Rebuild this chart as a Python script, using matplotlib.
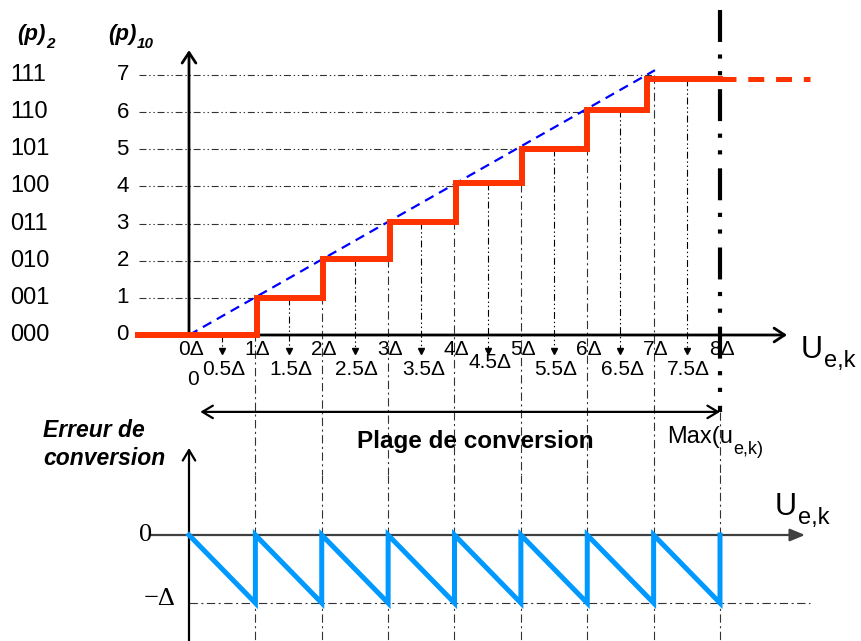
import matplotlib
matplotlib.use("Agg")
import matplotlib.pyplot as plt

plt.rcParams['font.family'] = ['Liberation Sans', 'DejaVu Sans']
plt.rcParams['lines.scale_dashes'] = False

# ---------------- data ----------------
codes_dec = [0, 1, 2, 3, 4, 5, 6, 7]
codes_bin = ['000', '001', '010', '011', '100', '101', '110', '111']
step_edges = [-0.77, 1.03, 2.02, 3.03, 4.02, 5.01, 6.0, 6.9, 8.0]   # in units of Delta
step_levels = [0, 1, 2.05, 3.05, 4.1, 5.0, 6.05, 6.9]
ideal_x = [0, 7.02]
ideal_y = [0, 7.13]
sat_x = [8.0, 9.36]
sat_y = [6.9, 6.9]
int_ticks = [0, 1, 2, 3, 4, 5, 6, 7, 8]
int_labels = ['0Δ', '1Δ', '2Δ', '3Δ', '4Δ', '5Δ', '6Δ', '7Δ', '8Δ']
half_ticks = [0.5, 1.5, 2.5, 3.5, 4.5, 5.5, 6.5, 7.5]
half_labels = ['0.5Δ', '1.5Δ', '2.5Δ', '3.5Δ', '4.5Δ', '5.5Δ', '6.5Δ', '7.5Δ']
err_x = [0, 1, 1, 2, 2, 3, 3, 4, 4, 5, 5, 6, 6, 7, 7, 8, 8]
err_y = [0, -1, 0, -1, 0, -1, 0, -1, 0, -1, 0, -1, 0, -1, 0, -1, 0]
x_max_range = 8

RED = '#ff3300'
BLUE = '#0099ff'
GRID = '#333333'
DD = (0, (5, 2, 1, 2, 1, 2))      # thin dash-dot-dot
DDd = (0, (6, 2.5, 1.5, 2.5))

W, H = 861, 641
fig = plt.figure(figsize=(W / 100, H / 100), dpi=100)
split = 475
ax1 = fig.add_axes([0, 1 - split / H, 1, split / H])
ax2 = fig.add_axes([0, 0, 1, (H - split) / H])
dpx = 66.375
lpx = 37.143
xlim = (-189 / dpx, (W - 189) / dpx)
ax1.set_xlim(*xlim)
ax1.set_ylim(-(split - 335) / lpx, 335 / lpx)
ax2.set_xlim(*xlim)
ax2.set_ylim(-(H - 535) / 68, (535 - split) / 68)
for a in (ax1, ax2):
    a.axis('off')

y1_bot = ax1.get_ylim()[0]


def sub(ax, parent, s, size, dy=-1.0, dx=0.5, **kw):
    ax.annotate(s, xy=(1, 0), xycoords=parent, xytext=(dx, dy),
                textcoords='offset points', fontsize=size, ha='left',
                va='baseline', annotation_clip=False, **kw)


# ---------- top chart -------------
for k in codes_dec[1:]:
    ax1.plot([-0.75, k], [k, k], color=GRID, lw=0.8, linestyle=DD, zorder=1)
for k in int_ticks[1:-1]:
    ax1.plot([k, k], [k, y1_bot], color=GRID, lw=0.8, linestyle=DDd, zorder=1)
for j, h in enumerate(half_ticks):
    lvl = step_levels[j]
    ax1.plot([h, h], [lvl, -0.40], color='k', lw=0.8, linestyle=DD, zorder=1)
    ax1.plot([h], [-0.42], marker='v', color='k', markersize=5, zorder=2)

# thick dash-dot at max
ax1.plot([x_max_range, x_max_range], [8.75, -2.07], color='k', lw=3,
         linestyle=(0, (23, 9, 3, 9, 3, 10)), zorder=3)
ax1.plot([x_max_range, x_max_range], [-2.07, y1_bot], color=GRID, lw=0.8,
         linestyle=DDd, zorder=1)

# axes arrows
head = '->,head_length=0.5,head_width=0.33'
ax1.annotate('', xy=(9.01, 0), xytext=(0, 0),
             arrowprops=dict(arrowstyle=head, lw=2, color='k', shrinkA=0,
                             shrinkB=0, mutation_scale=15),
             annotation_clip=False, zorder=2)
ax1.annotate('', xy=(0, 7.67), xytext=(0, 0),
             arrowprops=dict(arrowstyle=head, lw=2, color='k', shrinkA=0,
                             shrinkB=0, mutation_scale=15),
             annotation_clip=False, zorder=2)

# ideal line
ax1.plot(ideal_x, ideal_y, color='#0000ff', lw=1.6, linestyle=(0, (7, 4.5)), zorder=4)
# staircase
ax1.plot(step_edges, step_levels + [step_levels[-1]], drawstyle='steps-post',
         color=RED, lw=4.3, solid_joinstyle='miter', zorder=5)
ax1.plot(sat_x, sat_y, color=RED, lw=3.6, linestyle=(0, (11.5, 8.5)), zorder=5)

# y labels
for k, b in zip(codes_dec, codes_bin):
    ax1.text(-1.0, k, str(k), fontsize=16, ha='center', va='center')
    ax1.text(-2.70, k, b, fontsize=17, ha='left', va='center')
# headers
hdr = dict(fontweight='bold', style='italic')
t = ax1.text(-2.59, 7.94, '(p)', fontsize=16, ha='left', va='baseline', **hdr)
sub(ax1, t, '2', 11, dy=-2.0, dx=0.3, **hdr)
t = ax1.text(-1.22, 7.94, '(p)', fontsize=16, ha='left', va='baseline', **hdr)
sub(ax1, t, '10', 11, dy=-2.0, dx=0.3, **hdr)

# x labels
for tk, lab in zip(int_ticks, int_labels):
    ax1.text(tk + 0.03, -0.38, lab, fontsize=15, ha='center', va='center')
for tk, lab in zip(half_ticks, half_labels):
    yy = -0.75 if lab == '4.5Δ' else -0.93
    ax1.text(tk + 0.03, yy, lab, fontsize=15, ha='center', va='center')
ax1.text(0.06, -1.21, '0', fontsize=15, ha='center', va='center')

# axis name top
t = ax1.text(9.22, -0.62, 'U', fontsize=22, ha='left', va='baseline')
sub(ax1, t, 'e,k', 17, dy=-1.5, dx=0.5)

# conversion range
ax1.annotate('', xy=(8.0, -2.07), xytext=(0.17, -2.07),
             arrowprops=dict(arrowstyle='<->,head_length=0.5,head_width=0.3',
                             lw=1.6, color='k', shrinkA=0, shrinkB=0,
                             mutation_scale=15), annotation_clip=False)
ax1.text(4.31, -3.04, 'Plage de conversion', fontsize=17.5, fontweight='bold',
         ha='center', va='baseline')
t = ax1.text(7.2, -2.91, 'Max(u', fontsize=17, ha='left', va='baseline')
sub(ax1, t, 'e,k)', 13, dy=-4.5, dx=0.3)
ax1.text(-2.2, -2.75, 'Erreur de', fontsize=16.5, fontweight='bold',
         style='italic', ha='left', va='baseline')
ax1.text(-2.2, -3.50, 'conversion', fontsize=16.5, fontweight='bold',
         style='italic', ha='left', va='baseline')

# ---------- bottom chart -------------
y2_bot, y2_top = ax2.get_ylim()
for k in int_ticks[1:]:
    ax2.plot([k, k], [y2_top, y2_bot], color=GRID, lw=0.8, linestyle=DDd, zorder=1)
ax2.plot([0, 9.36], [-1, -1], color=GRID, lw=0.8, linestyle=DDd, zorder=1)
ax2.annotate('', xy=(9.28, 0), xytext=(-0.59, 0),
             arrowprops=dict(arrowstyle='-|>,head_length=0.6,head_width=0.25',
                             lw=1.6, color='#404040', shrinkA=0, shrinkB=0,
                             mutation_scale=15), annotation_clip=False, zorder=2)
ax2.annotate('', xy=(0, 1.28), xytext=(0, y2_bot),
             arrowprops=dict(arrowstyle='->,head_length=0.5,head_width=0.3',
                             lw=1.6, color='k', shrinkA=0, shrinkB=0,
                             mutation_scale=15), annotation_clip=False, zorder=2)
ax2.plot(err_x, err_y, color=BLUE, lw=3.6, solid_joinstyle='miter', zorder=4)
ax2.text(-0.56, 0, '0', fontsize=19, family='Liberation Serif', ha='right', va='center')
ax2.text(-0.21, -0.94, '−Δ', fontsize=19, family='Liberation Serif', ha='right',
         va='center')
t = ax2.text(8.83, 0.29, 'U', fontsize=22, ha='left', va='baseline')
sub(ax2, t, 'e,k', 17, dy=-1.5, dx=0.5)

fig.savefig('out.png', dpi=100)
